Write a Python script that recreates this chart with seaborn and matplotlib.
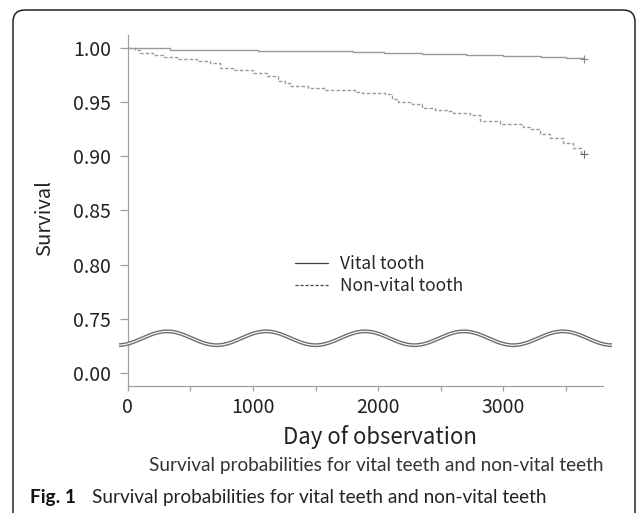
import numpy as np
import pandas as pd
import matplotlib
matplotlib.use("Agg")
import matplotlib.pyplot as plt
from matplotlib.patches import FancyBboxPatch
from matplotlib.transforms import IdentityTransform
from matplotlib.lines import Line2D
import seaborn as sns

# ---- data ----
vital_days = [0, 340, 1040, 1480, 1800, 2050, 2350, 2700, 3000, 3300, 3500, 3646]
vital_surv = [1.000, 0.9985, 0.9975, 0.997, 0.9963, 0.9957, 0.995, 0.994, 0.9928, 0.9915, 0.9905, 0.990]

nonvital_days = [0, 56, 96, 200, 279, 391, 551, 654, 734, 838, 998, 1109, 1197, 1256, 1296,
                 1440, 1576, 1816, 1872, 2056, 2111, 2159, 2271, 2351, 2455, 2550, 2598,
                 2734, 2814, 2973, 3157, 3213, 3294, 3374, 3478, 3558, 3620, 3646]
nonvital_surv = [1.000, 0.998, 0.996, 0.994, 0.992, 0.990, 0.988, 0.986, 0.982, 0.980, 0.977,
                 0.974, 0.970, 0.968, 0.965, 0.963, 0.961, 0.9596, 0.9586, 0.9577, 0.953,
                 0.9504, 0.948, 0.945, 0.943, 0.9417, 0.940, 0.9378, 0.9325, 0.9295, 0.9274,
                 0.925, 0.921, 0.917, 0.9127, 0.908, 0.9035, 0.9025]

series_labels = ["Vital tooth", "Non-vital tooth"]
y_tick_pos = [0.70, 0.75, 0.80, 0.85, 0.90, 0.95, 1.00]
y_tick_labels = ["0.00", "0.75", "0.80", "0.85", "0.90", "0.95", "1.00"]
x_major = [0, 1000, 2000, 3000]
x_minor = [500, 1500, 2500, 3500]

title_x = "Day of observation"
title_y = "Survival"
subtitle = "Survival probabilities for vital teeth and non-vital teeth"
caption_bold = "Fig. 1"
caption_rest = "Survival probabilities for vital teeth and non-vital teeth"

# ---- style ----
sns.set_style("ticks")
axis_font = ["Noto Sans CJK JP", "DejaVu Sans"]
plt.rcParams["font.family"] = axis_font

fig = plt.figure(figsize=(6.38, 5.13), dpi=100)
ax = fig.add_axes([0.2002, 0.2476, 0.7449, 0.6842])

df_v = pd.DataFrame({"day": vital_days, "surv": vital_surv})
df_n = pd.DataFrame({"day": nonvital_days, "surv": nonvital_surv})

line_col = "#9a9a9a"
sns.lineplot(data=df_v, x="day", y="surv", ax=ax, estimator=None, color=line_col,
             linewidth=1.0, drawstyle="steps-post")
sns.lineplot(data=df_n, x="day", y="surv", ax=ax, estimator=None, color=line_col,
             linewidth=1.0, drawstyle="steps-post", linestyle=(0, (2.5, 1.5)))
# censor marks at end
ax.plot([vital_days[-1]], [vital_surv[-1]], marker="+", color="#888888", ms=5.5, mew=0.8)
ax.plot([nonvital_days[-1]], [nonvital_surv[-1]], marker="+", color="#666666", ms=5.5, mew=0.8)

ax.set_xlim(0, 3796)
ax.set_ylim(0.6878, 1.0122)
ax.set_yticks(y_tick_pos)
ax.set_yticklabels(y_tick_labels)
ax.set_xticks(x_major)
ax.set_xticks(x_minor, minor=True)

for s in ["top", "right"]:
    ax.spines[s].set_visible(False)
for s in ["left", "bottom"]:
    ax.spines[s].set_color("#a0a0a0")
    ax.spines[s].set_linewidth(0.9)

ax.tick_params(axis="y", length=6, width=0.9, color="#a0a0a0", labelsize=14,
               labelcolor="#222222", pad=6)
ax.tick_params(axis="x", which="both", length=3.8, width=0.9, color="#a0a0a0",
               labelsize=14, labelcolor="#222222", pad=4)
ax.set_xlabel("")
ax.set_ylabel(title_y, fontsize=14.5, color="#222222")
ax.yaxis.set_label_coords(-0.153, 0.479)

# axis break wave
wx = np.linspace(-70, 3868, 600)
wy = 0.7319 + 0.0064 * np.cos(2 * np.pi * (wx - 315) / 790)
ax.plot(wx, wy, color="#6e6e6e", lw=2.8, clip_on=False, solid_capstyle="butt", zorder=5)
ax.plot(wx, wy, color="white", lw=0.8, clip_on=False, solid_capstyle="butt", zorder=6)

# legend
handles = [Line2D([], [], color="#444444", lw=0.9),
           Line2D([], [], color="#444444", lw=0.9, linestyle=(0, (2.5, 1.5)))]
ax.legend(handles, series_labels, loc="center left", bbox_to_anchor=(0.352, 0.316),
          frameon=False, fontsize=12.5, handlelength=1.9, handletextpad=0.7,
          labelspacing=0.2, borderpad=0, borderaxespad=0)

# texts
fig.text(380 / 638, 1 - 437 / 513, title_x, ha="center", va="center", fontsize=16,
         color="#222222")
cap_font = ["Lato", "DejaVu Sans"]
fig.text(376 / 638, 1 - 466 / 513, subtitle, ha="center", va="center", fontsize=13.7,
         color="#333333", family=cap_font)
fig.text(30 / 638, 1 - 497 / 513, caption_bold, ha="left", va="center",
         fontsize=13.7, fontweight="bold", color="#111111", family=cap_font)
fig.text(92 / 638, 1 - 497 / 513, caption_rest, ha="left", va="center", fontsize=13.7,
         color="#222222", family=cap_font)

# rounded frame
frame = FancyBboxPatch((13, -40), 622, 543, boxstyle="round,pad=0,rounding_size=12",
                       transform=IdentityTransform(), fill=False, lw=1.1,
                       edgecolor="#222222", clip_on=False)
fig.add_artist(frame)

fig.savefig("out.png", dpi=100)
